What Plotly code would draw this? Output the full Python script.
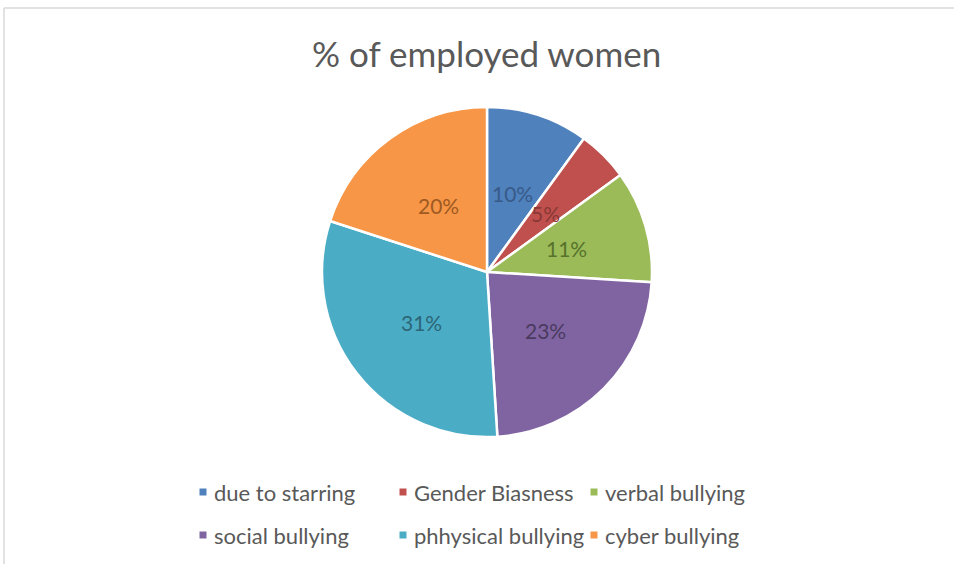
import math
import plotly.graph_objects as go

labels = ["due to starring", "Gender Biasness", "verbal bullying",
          "social bullying", "phhysical bullying", "cyber bullying"]
values = [10, 5, 11, 23, 31, 20]
colors = ["#4F81BD", "#C0504D", "#9BBB59", "#8064A2", "#4BACC6", "#F79646"]
label_colors = ["#385A88", "#8A3836", "#56722B", "#4A3A60", "#2C6678", "#9E5A22"]
title_text = "% of employed women"

W, H = 954, 564
cx, cy, R = 487, 272, 165
font = "Lato, 'Open Sans', sans-serif"

fig = go.Figure()
fig.add_trace(go.Pie(
    labels=labels, values=values, sort=False, direction="clockwise", rotation=0,
    marker=dict(colors=colors, line=dict(color="white", width=2.5)),
    textinfo="none", hoverinfo="label+percent", showlegend=False,
    domain=dict(x=[(cx - R) / W, (cx + R) / W], y=[1 - (cy + R) / H, 1 - (cy - R) / H]),
))

annotations = []
total = sum(values)
cum = 0
for v, c in zip(values, label_colors):
    mid = (cum + v / 2) / total * 2 * math.pi
    cum += v
    px = cx + 0.5 * R * math.sin(mid)
    py = cy - 0.5 * R * math.cos(mid)
    annotations.append(dict(x=px / W, y=1 - py / H, xref="paper", yref="paper",
                            xanchor="center", yanchor="middle",
                            text=f"{round(v / total * 100)}%", showarrow=False,
                            font=dict(family=font, size=21, color=c)))

annotations.append(dict(x=cx / W, y=1 - 53 / H, xref="paper", yref="paper",
                        xanchor="center", yanchor="middle",
                        text=title_text, showarrow=False,
                        font=dict(family=font, size=35, color="#595959")))

shapes = [
    dict(type="line", xref="paper", yref="paper", x0=4 / W, x1=1, y0=1 - 8 / H, y1=1 - 8 / H,
         line=dict(color="#D9D9D9", width=1.5)),
    dict(type="line", xref="paper", yref="paper", x0=4 / W, x1=4 / W, y0=0, y1=1 - 8 / H,
         line=dict(color="#D9D9D9", width=1.5)),
]
col_x = [203, 403, 594]
row_y = [492, 535]
for i, (lab, c) in enumerate(zip(labels, colors)):
    mx = col_x[i % 3]
    my = row_y[i // 3]
    shapes.append(dict(type="rect", xref="paper", yref="paper",
                       x0=(mx - 3.5) / W, x1=(mx + 3.5) / W,
                       y0=1 - (my + 3.5) / H, y1=1 - (my - 3.5) / H,
                       fillcolor=c, line=dict(width=0)))
    annotations.append(dict(x=(mx + 9) / W, y=1 - my / H, xref="paper", yref="paper",
                            xanchor="left", yanchor="middle", text=lab, showarrow=False,
                            font=dict(family=font, size=22, color="#595959")))

fig.update_layout(width=W, height=H, margin=dict(l=0, r=0, t=0, b=0),
                  paper_bgcolor="white", plot_bgcolor="white",
                  annotations=annotations, shapes=shapes)
fig.write_html("out.html")
